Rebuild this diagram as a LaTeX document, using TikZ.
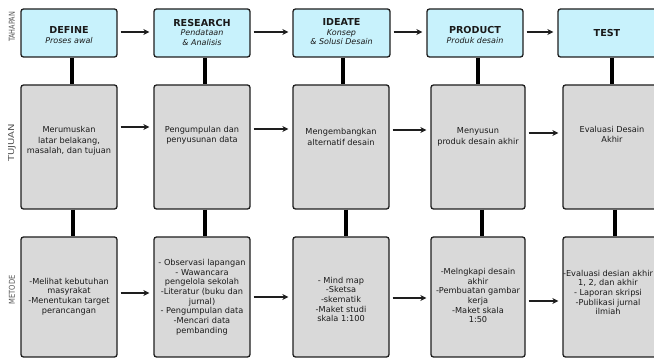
\documentclass[tikz,border=0pt]{standalone}
\usepackage{fontspec}
\setmainfont{DejaVu Sans}
\usetikzlibrary{arrows.meta}
\definecolor{cyanfill}{HTML}{C8F2FC}
\definecolor{grayfill}{HTML}{D9D9D9}
\definecolor{edge}{HTML}{1E1E1E}
\definecolor{txt}{HTML}{1A1A1A}
\definecolor{lbl}{HTML}{555555}
\newcommand{\subtxt}[1]{{\fontsize{8}{10}\selectfont\itshape\mdseries #1}}
\tikzset{
  topbox/.style={draw=edge, line width=1.3pt, rounded corners=2.5pt, fill=cyanfill, inner sep=0pt},
  graybox/.style={draw=edge, line width=1.3pt, rounded corners=2.5pt, fill=grayfill, inner sep=0pt},
  toptext/.style={align=center, text=txt, inner sep=0pt, font=\fontsize{9.6}{10.5}\selectfont\bfseries},
  midtext/.style={align=center, text=txt, inner sep=0pt, font=\fontsize{8.2}{10.3}\selectfont},
  bottext/.style={align=center, text=txt, inner sep=0pt, font=\fontsize{8.2}{9.7}\selectfont},
  rowlabel/.style={text=lbl, inner sep=0pt, rotate=90},
  flow/.style={-{Stealth[length=6pt,width=6pt]}, line width=1.3pt, draw=edge, shorten <=3pt, shorten >=4pt},
  stem/.style={line width=4pt, draw=black}
}
\begin{document}
\begin{tikzpicture}[x=1pt,y=-1pt]
\clip (0,0) rectangle (654,358);
\useasboundingbox (0,0) rectangle (654,358);
% row labels
\node[rowlabel] (lt) at (12,27) {\resizebox{30pt}{6pt}{TAHAPAN}};
\node[rowlabel] (lu) at (12,143) {\resizebox{38pt}{6pt}{TUJUAN}};
\node[rowlabel] (lm) at (12,290) {\resizebox{29pt}{6pt}{METODE}};
% top row
\node[topbox, minimum width=96pt, minimum height=48pt] (d1) at (69,33) {};
\node[topbox, minimum width=96pt, minimum height=48pt] (r1) at (202,33) {};
\node[topbox, minimum width=97pt, minimum height=48pt] (i1) at (341.5,33) {};
\node[topbox, minimum width=96pt, minimum height=48pt] (p1) at (475,33) {};
\node[topbox, minimum width=100pt, minimum height=48pt] (t1) at (608,33) {};
% middle row
\node[graybox, minimum width=96pt, minimum height=124pt] (d2) at (69,147) {};
\node[graybox, minimum width=96pt, minimum height=124pt] (r2) at (202,147) {};
\node[graybox, minimum width=96pt, minimum height=124pt] (i2) at (341,147) {};
\node[graybox, minimum width=94pt, minimum height=124pt] (p2) at (478,147) {};
\node[graybox, minimum width=94pt, minimum height=124pt] (t2) at (610,147) {};
% bottom row
\node[graybox, minimum width=96pt, minimum height=120pt] (d3) at (69,297) {};
\node[graybox, minimum width=96pt, minimum height=120pt] (r3) at (202,297) {};
\node[graybox, minimum width=96pt, minimum height=120pt] (i3) at (341,297) {};
\node[graybox, minimum width=94pt, minimum height=120pt] (p3) at (478,297) {};
\node[graybox, minimum width=94pt, minimum height=120pt] (t3) at (610,297) {};
% stems top->middle
\draw[stem] ([xshift=3pt]d1.south) -- ([xshift=3pt]d1.south |- d2.north);
\draw[stem] ([xshift=3pt]r1.south) -- ([xshift=3pt]r1.south |- r2.north);
\draw[stem] ([xshift=1.5pt]i1.south) -- ([xshift=1.5pt]i1.south |- i2.north);
\draw[stem] ([xshift=3pt]p1.south) -- ([xshift=3pt]p1.south |- p2.north);
\draw[stem] ([xshift=4pt]t1.south) -- ([xshift=4pt]t1.south |- t2.north);
% stems middle->bottom
\draw[stem] ([xshift=4pt]d2.south) -- ([xshift=4pt]d2.south |- d3.north);
\draw[stem] ([xshift=3pt]r2.south) -- ([xshift=3pt]r2.south |- r3.north);
\draw[stem] ([xshift=5pt]i2.south) -- ([xshift=5pt]i2.south |- i3.north);
\draw[stem] ([xshift=4pt]p2.south) -- ([xshift=4pt]p2.south |- p3.north);
\draw[stem] ([xshift=5pt]t2.south) -- ([xshift=5pt]t2.south |- t3.north);
% top arrows
\draw[flow] ([yshift=1pt]d1.east) -- ([yshift=1pt]r1.west);
\draw[flow] ([yshift=1pt]r1.east) -- ([yshift=1pt]i1.west);
\draw[flow] ([yshift=1pt]i1.east) -- ([yshift=1pt]p1.west);
\draw[flow] ([yshift=1pt]p1.east) -- ([yshift=1pt]t1.west);
% middle arrows
\draw[flow] ([yshift=20pt]d2.east) -- ([yshift=20pt]r2.west);
\draw[flow] ([yshift=18pt]r2.east) -- ([yshift=18pt]i2.west);
\draw[flow] ([yshift=17pt]i2.east) -- ([yshift=17pt]p2.west);
\draw[flow] ([yshift=14pt]p2.east) -- ([yshift=14pt]t2.west);
% bottom arrows
\draw[flow] ([yshift=4pt]d3.east) -- ([yshift=4pt]r3.west);
\draw[flow] ([yshift=0pt]r3.east) -- ([yshift=0pt]i3.west);
\draw[flow] ([yshift=-1pt]i3.east) -- ([yshift=-1pt]p3.west);
\draw[flow] ([yshift=-4pt]p3.east) -- ([yshift=-4pt]t3.west);
% top texts
\node[toptext] (d1t) at (69,35) {DEFINE\\[-1pt]\subtxt{Proses awal}};
\node[toptext] (r1t) at (202,32) {RESEARCH\\[-1pt]\subtxt{Pendataan}\\[-1pt]\subtxt{\& Analisis}};
\node[toptext] (i1t) at (341.5,32) {IDEATE\\[-1pt]\subtxt{Konsep}\\[-1pt]\subtxt{\& Solusi Desain}};
\node[toptext] (p1t) at (475,35) {PRODUCT\\[-1pt]\subtxt{Produk desain}};
\node[toptext] (t1t) at (607,33) {TEST};
% middle texts
\node[midtext] (d2t) at (69,141) {Merumuskan\\latar belakang,\\masalah, dan tujuan};
\node[midtext] (r2t) at (202,135.5) {Pengumpulan dan\\penyusunan data};
\node[midtext] (i2t) at (341,137) {Mengembangkan\\alternatif desain};
\node[midtext] (p2t) at (478,137) {Menyusun\\produk desain akhir};
\node[midtext] (t2t) at (612,134.5) {Evaluasi Desain\\Akhir};
% bottom texts
\node[bottext] (d3t) at (69,296.5) {-Melihat kebutuhan\\masyrakat\\-Menentukan target\\perancangan};
\node[bottext] (r3t) at (202,297) {- Observasi lapangan\\- Wawancara\\pengelola sekolah\\-Literatur (buku dan\\jurnal)\\- Pengumpulan data\\-Mencari data\\pembanding};
\node[bottext] (i3t) at (341,299.5) {- Mind map\\-Sketsa\\-skematik\\-Maket studi\\skala 1:100};
\node[bottext] (p3t) at (478,295.5) {-Melngkapi desain\\akhir\\-Pembuatan gambar\\kerja\\-Maket skala\\1:50};
\node[bottext] (t3t) at (608,292.5) {-Evaluasi desian akhir\\1, 2, dan akhir\\- Laporan skripsi\\-Publikasi jurnal\\ilmiah};
\end{tikzpicture}
\end{document}
